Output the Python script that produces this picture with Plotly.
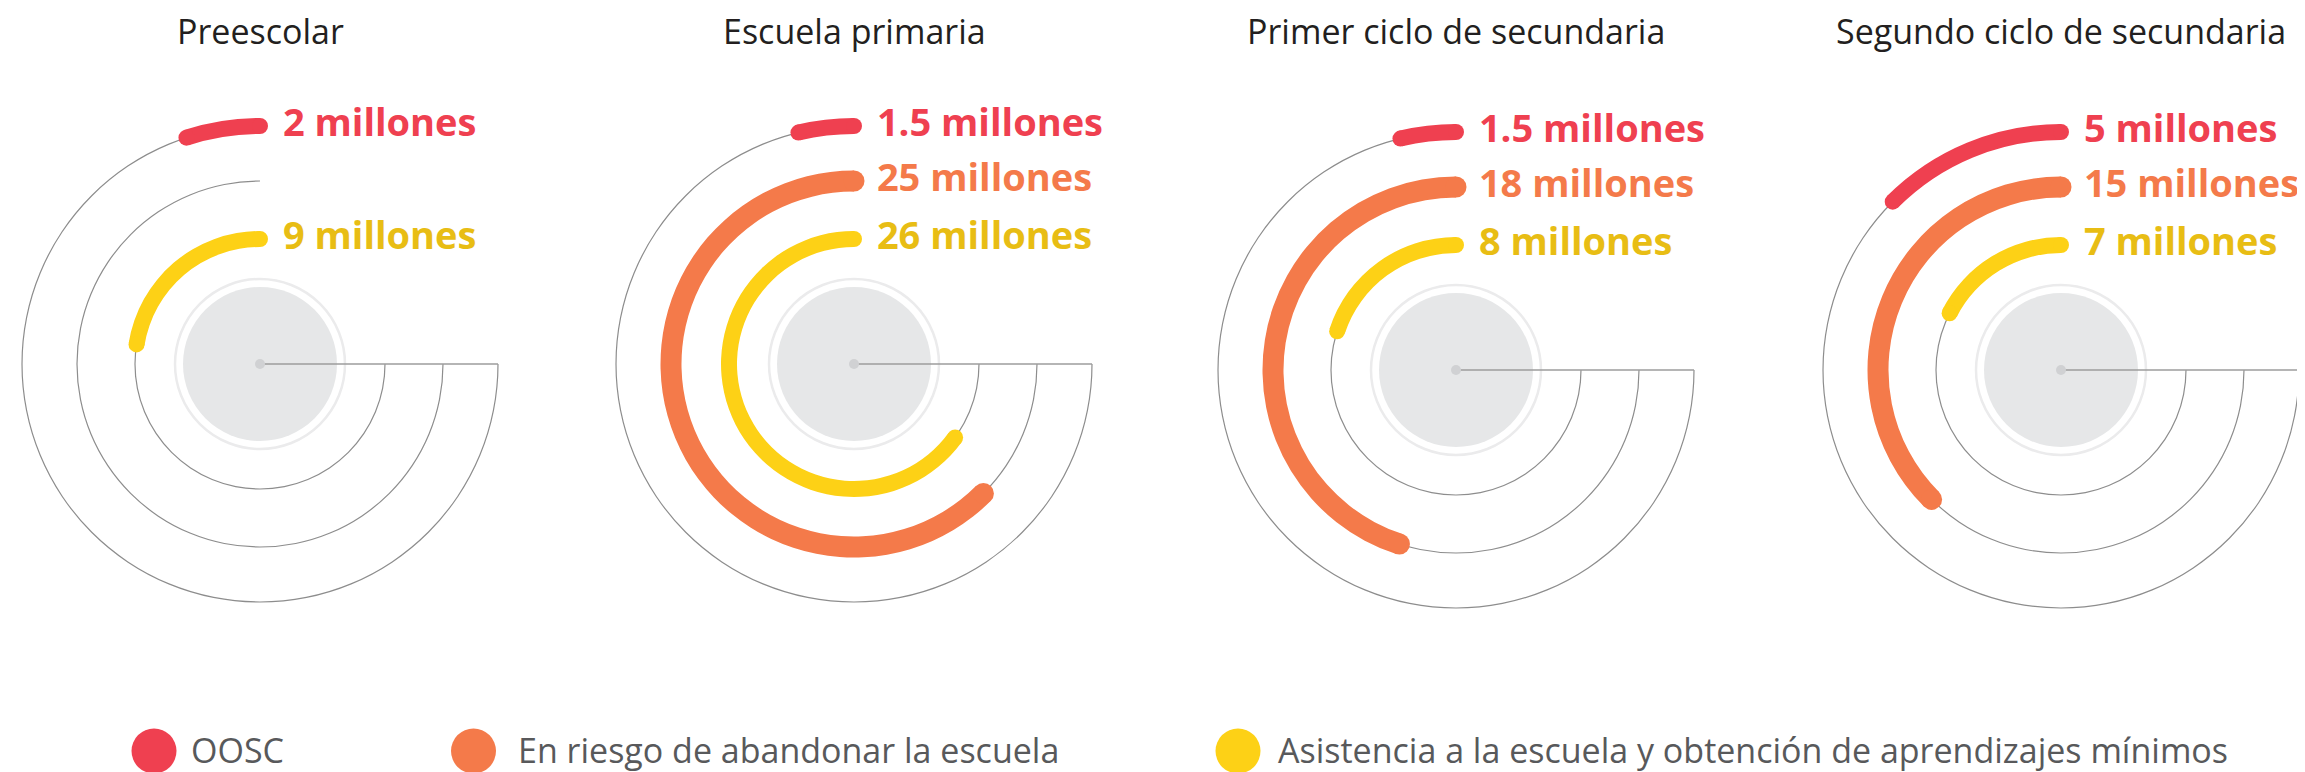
import plotly.graph_objects as go

# Data (millions of children)
STAGES = ['Preescolar', 'Escuela primaria', 'Primer ciclo de secundaria', 'Segundo ciclo de secundaria']
OOSC = [2, 1.5, 1.5, 5]
EN_RIESGO = [None, 25, 18, 15]
ASISTENCIA = [9, 26, 8, 7]

SERIES_NAMES = ['OOSC', 'En riesgo de abandonar la escuela',
                'Asistencia a la escuela y obtención de aprendizajes mínimos']

# Scale: the 270 degree track equals 30 millones
MAX_VALUE = 30
SPAN = 270
DEG = SPAN / MAX_VALUE

W, H = 2305, 772
S = 250  # half size of each polar domain, in px (radial units == px)

# panel centres, px from top-left of the figure
CENTERS = [(252, 356), (846, 356), (1448, 362), (2053, 362)]

COLORS = {
    'red': '#ef4050',
    'orange': '#f47a4a',
    'yellow': '#fdd116',
    'yellow_text': '#e8bd14',
    'track': '#8d8d8d',
    'line': '#9c9c9c',
    'disk': '#e6e7e8',
    'ring': '#ebebec',
    'dot': '#d0d1d3',
    'title': '#231f20',
    'legend': '#58595b',
}

# ring radius, bar thickness, bar colour, label colour for each series
RINGS = [
    (238, 16, COLORS['red'], COLORS['red']),
    (183, 21, COLORS['orange'], COLORS['orange']),
    (125, 16, COLORS['yellow'], COLORS['yellow_text']),
]
SERIES = [OOSC, EN_RIESGO, ASISTENCIA]

fig = go.Figure()

for i, stage in enumerate(STAGES):
    sub = 'polar' if i == 0 else f'polar{i + 1}'

    # centre disk with light halo
    fig.add_trace(go.Scatterpolar(
        r=[0], theta=[0], mode='markers', subplot=sub, hoverinfo='skip',
        marker=dict(size=170, color='white', line=dict(color=COLORS['ring'], width=2.5)),
        showlegend=False, cliponaxis=False,
    ))
    fig.add_trace(go.Scatterpolar(
        r=[0], theta=[0], mode='markers', subplot=sub, hoverinfo='skip',
        marker=dict(size=154, color=COLORS['disk'], line=dict(width=0)),
        showlegend=False, cliponaxis=False,
    ))

    # thin 270 degree tracks
    fig.add_trace(go.Barpolar(
        r=[1.2] * 3,
        base=[rr - 0.6 for rr, _, _, _ in RINGS],
        theta=[SPAN / 2] * 3,
        width=[SPAN] * 3,
        marker=dict(color=COLORS['track'], line=dict(width=0)),
        subplot=sub, hoverinfo='skip', showlegend=False,
    ))

    # radius line at the end of the tracks
    fig.add_trace(go.Scatterpolar(
        r=[0, RINGS[0][0]], theta=[SPAN, SPAN], mode='lines', subplot=sub,
        line=dict(color=COLORS['line'], width=1.5), hoverinfo='skip',
        showlegend=False, cliponaxis=False,
    ))
    fig.add_trace(go.Scatterpolar(
        r=[0], theta=[0], mode='markers', subplot=sub, hoverinfo='skip',
        marker=dict(size=10, color=COLORS['dot'], line=dict(width=0)),
        showlegend=False, cliponaxis=False,
    ))

    for (radius, thick, color, text_color), values, name in zip(RINGS, SERIES, SERIES_NAMES):
        v = values[i]
        if v is None:
            continue
        # value arc
        fig.add_trace(go.Barpolar(
            r=[thick], base=[radius - thick / 2],
            theta=[v * DEG / 2], width=[v * DEG],
            marker=dict(color=color, line=dict(width=0)),
            subplot=sub, name=name, showlegend=False,
        ))
        # rounded caps
        fig.add_trace(go.Scatterpolar(
            r=[radius, radius], theta=[0, v * DEG], mode='markers', subplot=sub,
            marker=dict(size=thick, color=color, line=dict(width=0)),
            hoverinfo='skip', showlegend=False, cliponaxis=False,
        ))
        # value label
        fig.add_trace(go.Scatterpolar(
            r=[radius], theta=[0], mode='markers+text', subplot=sub,
            marker=dict(size=35, color='rgba(0,0,0,0)'),
            text=[f'{v:g} millones'], textposition='middle right',
            textfont=dict(family='Open Sans', size=38, color=text_color, weight='bold'),
            hoverinfo='skip', showlegend=False, cliponaxis=False,
        ))

polar_layout = {}
annotations = []
for i, (stage, (cx, cy)) in enumerate(zip(STAGES, CENTERS)):
    pid = 'polar' if i == 0 else f'polar{i + 1}'
    polar_layout[pid] = dict(
        domain=dict(x=[(cx - S) / W, (cx + S) / W], y=[1 - (cy + S) / H, 1 - (cy - S) / H]),
        bgcolor='rgba(0,0,0,0)',
        barmode='overlay',
        angularaxis=dict(visible=False, rotation=90, direction='counterclockwise'),
        radialaxis=dict(visible=False, range=[0, S]),
    )
    annotations.append(dict(
        text=stage, x=cx / W, y=1 - 23 / H, xref='paper', yref='paper',
        xanchor='center', yanchor='middle', showarrow=False,
        font=dict(family='Open Sans', size=34, color=COLORS['title']),
    ))

# manual legend with large dots
LEGEND_DOTS = [146, 465.5, 1230]
LEGEND_TEXT_X = [181, 508, 1268]
legend_colors = [COLORS['red'], COLORS['orange'], COLORS['yellow']]
shapes = []
for dot_x, text_x, color, name in zip(LEGEND_DOTS, LEGEND_TEXT_X, legend_colors, SERIES_NAMES):
    shapes.append(dict(
        type='circle', xref='paper', yref='paper',
        xsizemode='pixel', ysizemode='pixel',
        xanchor=dot_x / W, yanchor=1 - 743 / H,
        x0=-22.5, x1=22.5, y0=-22.5, y1=22.5,
        fillcolor=color, line=dict(width=0),
    ))
    annotations.append(dict(
        text=name, x=text_x / W, y=1 - 742 / H, xref='paper', yref='paper',
        xanchor='left', yanchor='middle', showarrow=False,
        font=dict(family='Open Sans', size=34, color=COLORS['legend']),
    ))

fig.update_layout(
    width=W, height=H,
    margin=dict(l=0, r=0, t=0, b=0),
    paper_bgcolor='white',
    plot_bgcolor='white',
    showlegend=False,
    annotations=annotations,
    shapes=shapes,
    **polar_layout,
)

fig.write_html('out.html')
